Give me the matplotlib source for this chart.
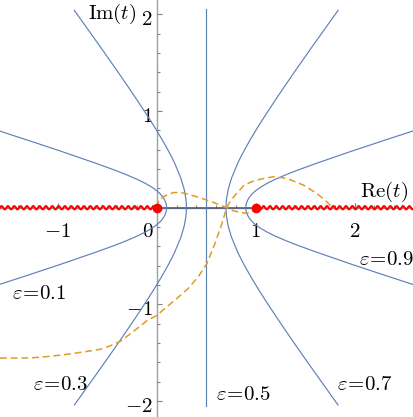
import numpy as np
import matplotlib
matplotlib.use("Agg")
import matplotlib.pyplot as plt
from matplotlib.ticker import MultipleLocator
from matplotlib.transforms import ScaledTranslation

plt.rcParams['mathtext.fontset'] = 'cm'
plt.rcParams['font.family'] = 'DejaVu Serif'

# steepest descent contours, upper half (lower half is the mirror image)
eps_01_x = [0.100, 0.0973, 0.0923, 0.0797, 0.0669, 0.0496, 0.0263, -0.0053, -0.0496,
            -0.1154, -0.1895, -0.3045, -0.4249, -0.6157, -0.976, -1.306, -1.893]
eps_01_y = [0.0, 0.0301, 0.0504, 0.0820, 0.1042, 0.1275, 0.1526, 0.1806, 0.2128,
            0.2521, 0.2897, 0.3408, 0.3892, 0.4599, 0.5872, 0.6992, 0.895]
eps_03_x = [0.300, 0.2985, 0.2947, 0.2777, 0.2437, 0.1801, 0.1475, 0.1056, 0.0504, -0.0245,
            -0.1064, -0.2030, -0.2935, -0.4105, -0.5672, -0.7882, -0.832]
eps_03_y = [0.0, 0.0451, 0.0912, 0.1899, 0.3071, 0.4632, 0.5312, 0.6118, 0.7112, 0.8389,
            0.9704, 1.1207, 1.2578, 1.4318, 1.6602, 1.978, 2.04]
eps_05_y = [-2.05, 2.05]

# orange dashed path
orange_a_x = [0.0, 0.02, 0.067, 0.168, 0.24, 0.30, 0.437, 0.572, 0.639, 0.707, 0.774, 0.841, 0.909, 0.96, 1.0]
orange_a_y = [0.0, 0.07, 0.114, 0.157, 0.158, 0.145, 0.103, 0.056, 0.028, 0.0, -0.031, -0.048, -0.058, -0.041, 0.0]
orange_b_x = [-1.583, -1.40, -1.246, -1.08, -0.909, -0.75, -0.573, -0.47, -0.361, -0.18, -0.101, 0.0, 0.067,
              0.202, 0.319, 0.42, 0.505, 0.589, 0.657, 0.707,
              0.74, 0.80, 0.88, 0.95, 1.043, 1.178, 1.313, 1.481, 1.616, 1.717, 1.768, 1.78]
orange_b_y = [-1.554, -1.555, -1.551, -1.537, -1.516, -1.493, -1.464, -1.428, -1.378, -1.235, -1.17, -1.115, -1.055,
              -0.94, -0.834, -0.714, -0.58, -0.37, -0.17, 0.0,
              0.062, 0.14, 0.23, 0.265, 0.294, 0.321, 0.304, 0.235, 0.149, 0.062, 0.010, 0.0]

labels = ['$\\varepsilon\\!=\\!0.1$', '$\\varepsilon\\!=\\!0.3$', '$\\varepsilon\\!=\\!0.5$',
          '$\\varepsilon\\!=\\!0.7$', '$\\varepsilon\\!=\\!0.9$']
label_x = [-1.457, -1.246, 0.599, 1.818, 2.047]
label_y = [-0.892, -1.826, -1.93, -1.826, -0.534]

cut_left = (-1.583, 0.0)
cut_right = (1.0, 2.589)
branch_pts = [0.0, 1.0]

blue = '#5E81B5'
orange = '#E19C24'

fig = plt.figure(figsize=(4.13, 4.17), dpi=100)
ax = fig.add_axes([0, 0, 1, 1])
ax.set_xlim(-1.583, 2.589)
ax.set_ylim(-2.164, 2.148)
ax.patch.set_alpha(0)

for s in ['top', 'right']:
    ax.spines[s].set_visible(False)
ax.spines['left'].set_position(('data', 0))
ax.spines['bottom'].set_position(('data', 0))
for s in ['left', 'bottom']:
    ax.spines[s].set_color('#a0a0a0')
    ax.spines[s].set_linewidth(1.0)
    ax.spines[s].set_zorder(1)

ax.set_xticks([-1, 0, 1, 2])
ax.set_xticklabels(['$-1$', '$0$', '$1$', '$2$'])
ax.set_yticks([-2, -1, 1, 2])
ax.set_yticklabels(['$-2$', '$-1$', '$1$', '$2$'])
ax.xaxis.set_minor_locator(MultipleLocator(0.2))
ax.yaxis.set_minor_locator(MultipleLocator(0.2))
ax.tick_params(which='both', direction='in', color='#808080', width=0.8, labelsize=15)
ax.tick_params(which='major', length=3.5)
ax.tick_params(which='minor', length=2)
ax.tick_params(axis='x', pad=10)
ax.tick_params(axis='y', pad=3)

for lbl in ax.get_xticklabels():
    if lbl.get_text() == '$0$':
        lbl.set_transform(lbl.get_transform() + ScaledTranslation(-0.09, 0, fig.dpi_scale_trans))
for lbl in ax.get_yticklabels():
    lbl.set_transform(lbl.get_transform() + ScaledTranslation(0, -0.03, fig.dpi_scale_trans))

# blue contours
def full_curve(xs, ys):
    xs = np.array(xs)
    ys = np.array(ys)
    return np.concatenate([xs[::-1], xs[1:]]), np.concatenate([-ys[::-1], ys[1:]])

for xs, ys in [(eps_01_x, eps_01_y), (eps_03_x, eps_03_y)]:
    cx, cy = full_curve(xs, ys)
    ax.plot(cx, cy, color=blue, lw=0.85, zorder=3)
    # eps -> 1-eps is the mirror t -> 1-t
    ax.plot(1 - cx, cy, color=blue, lw=0.85, zorder=3)
ax.plot([0.5, 0.5], eps_05_y, color=blue, lw=0.85, zorder=3)
ax.plot(branch_pts, [0, 0], color='#4d5c75', lw=1.2, zorder=2)

# orange dashed
ax.plot(orange_a_x, orange_a_y, color=orange, lw=1.1, ls=(0, (4.5, 2.5)), zorder=4)
ax.plot(orange_b_x, orange_b_y, color=orange, lw=1.1, ls=(0, (4.5, 2.5)), zorder=4)

# branch cuts drawn as wavy red lines
amp, wl = 0.017, 0.064
for a, b in [cut_left, cut_right]:
    wx = np.linspace(a, b, 800)
    ax.plot(wx, amp * np.sin(2 * np.pi * (wx - a) / wl), color='red', lw=1.5, zorder=5)
ax.plot(branch_pts, [0, 0], 'o', color='red', ms=6, zorder=6)

for t, x, y in zip(labels, label_x, label_y):
    ax.text(x, y, t, fontsize=15, ha='left', va='center')

ax.text(2.54, 0.165, '$\\mathrm{Re}(t)$', fontsize=15, ha='right', va='center')
ax.text(-0.209, 2.008, '$\\mathrm{Im}(t)$', fontsize=15, ha='right', va='center')

fig.savefig('out.png', dpi=100, facecolor='white')
